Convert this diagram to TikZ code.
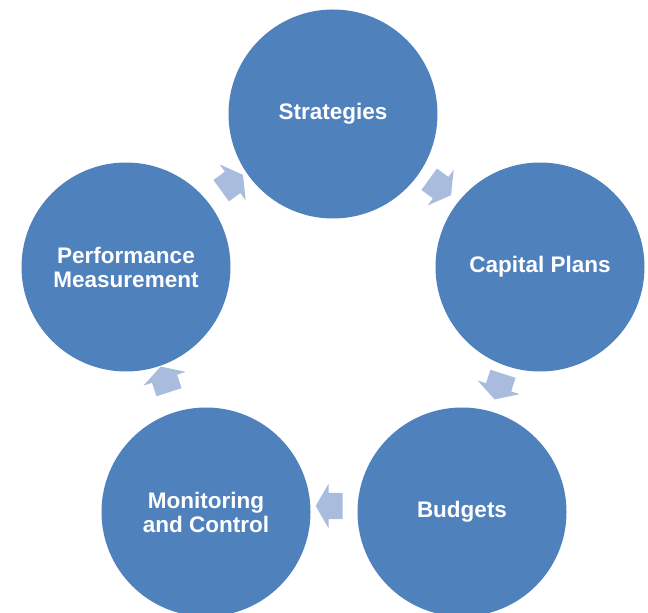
\documentclass[tikz,border=0pt]{standalone}
\usepackage{fontspec}
\setmainfont{Liberation Sans}
\usetikzlibrary{shapes.arrows}
\definecolor{stageblue}{HTML}{4F81BD}
\definecolor{flowblue}{HTML}{A9BCDD}
\tikzset{
  stage/.style={circle, fill=stageblue, minimum size=209pt, inner sep=0pt,
    text=white, align=center, font=\fontsize{22.5}{24}\selectfont\bfseries},
  flow/.style={single arrow, fill=flowblue, inner xsep=0pt, inner ysep=13pt,
    minimum height=27pt, single arrow head extend=9pt, single arrow tip angle=120}
}
\begin{document}
\begin{tikzpicture}[x=1pt, y=1pt]
    \useasboundingbox (0,0) rectangle (648,613);

    \node (strat) at (333, 499) [stage] {Strategies};
    \node (capital) at (540, 346) [stage] {Capital Plans};
    \node (budget) at (462, 101) [stage] {Budgets};
    \node (monitor) at (206, 101) [stage] {Monitoring\\and Control};
    \node (perf) at (126, 346) [stage] {Performance\\Measurement};

    \node (a1) at (229, 428) [flow, rotate=36] {};
    \node (a2) at (437, 428) [flow, rotate=-36] {};
    \node (a3) at (500, 230) [flow, rotate=-108] {};
    \node (a4) at (333, 107) [flow, rotate=180] {};
    \node (a5) at (166, 230) [flow, rotate=108] {};
\end{tikzpicture}
\end{document}
